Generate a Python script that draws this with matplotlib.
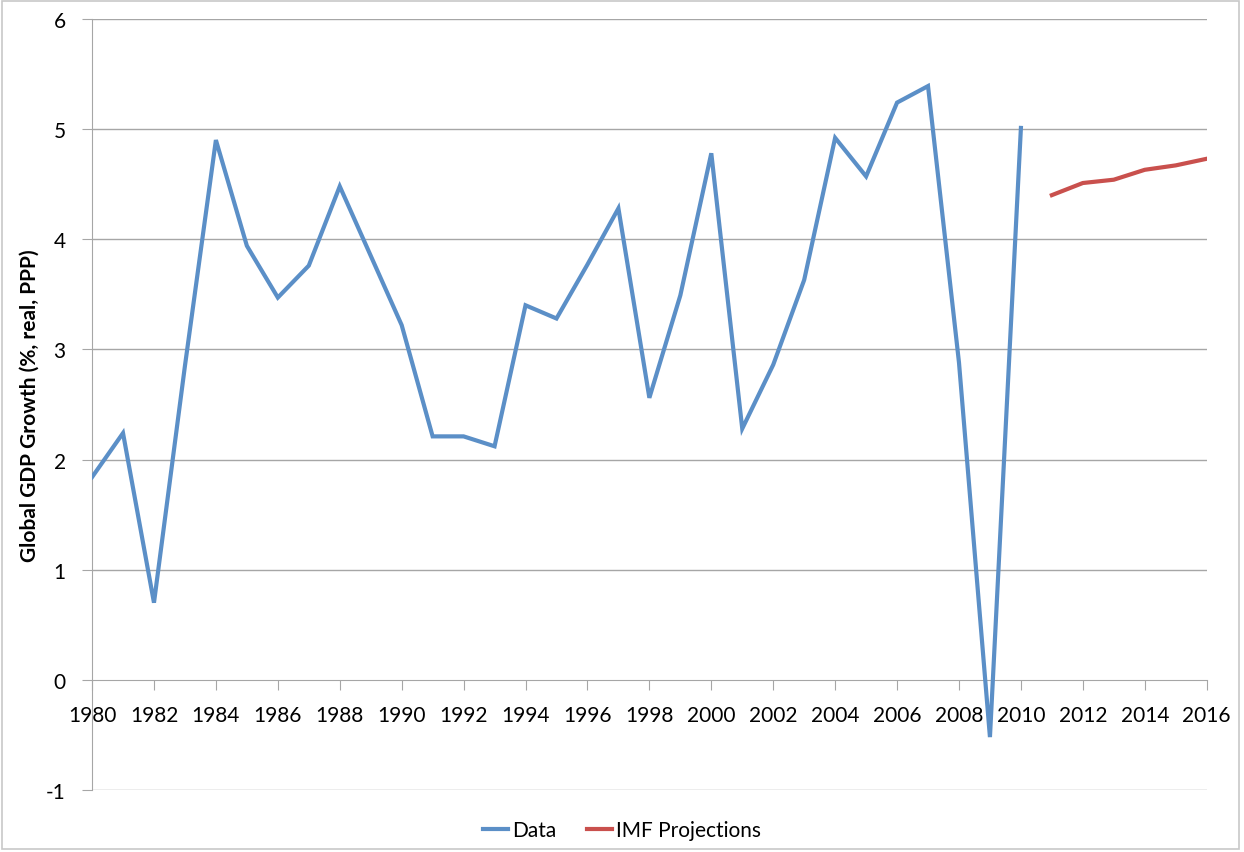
import numpy as np
import matplotlib.pyplot as plt
from matplotlib.patches import Rectangle

# Global GDP growth (%, real, PPP)
years = list(range(1980, 2011))
growth = [1.84, 2.24, 0.70, 2.85, 4.90, 3.94, 3.47, 3.76, 4.48, 3.85,
          3.22, 2.21, 2.21, 2.12, 3.40, 3.28, 3.77, 4.28, 2.56, 3.49,
          4.78, 2.28, 2.86, 3.63, 4.92, 4.57, 5.24, 5.39, 2.88, -0.52,
          5.01]

# IMF projections
proj_years = list(range(2011, 2017))
proj = [4.40, 4.51, 4.54, 4.63, 4.67, 4.73]

xticks = list(range(1980, 2017, 2))
yticks = list(range(-1, 7))

plt.rcParams['font.family'] = ['Lato', 'DejaVu Sans']
plt.rcParams['axes.unicode_minus'] = False

fig = plt.figure(figsize=(12.44, 8.53), dpi=100)
ax = fig.add_axes([0.074, 0.0727, 0.896, 0.904])

# Excel-like outer border
fig.patches.append(Rectangle((0.002, 0.004), 0.994, 0.994, transform=fig.transFigure,
                             fill=False, edgecolor='#c8c8c8', linewidth=1.2))

grid_col = '#a6a6a6'
for y in yticks:
    if y != 0:
        ax.axhline(y, color=grid_col, linewidth=1, zorder=1)

ax.plot(years, growth, color='#5b8fc7', linewidth=3, label='Data', zorder=3,
        solid_joinstyle='miter')
ax.plot(proj_years, proj, color='#c9504d', linewidth=3, label='IMF Projections', zorder=3)

ax.set_xlim(1980, 2016)
ax.set_ylim(-1, 6)

ax.spines['top'].set_visible(False)
ax.spines['right'].set_visible(False)
ax.spines['bottom'].set_position(('data', 0))
ax.spines['bottom'].set_color(grid_col)
ax.spines['left'].set_color(grid_col)
ax.spines['bottom'].set_zorder(1)

ax.set_xticks(xticks)
ax.set_xticklabels([str(x) for x in xticks])
ax.set_yticks(yticks)
ax.tick_params(axis='x', direction='out', length=7, color=grid_col, labelsize=15, pad=11)
ax.tick_params(axis='y', direction='out', length=7, color=grid_col, labelsize=15, pad=12)
for lbl in ax.get_xticklabels():
    lbl.set_zorder(2)

ax.set_ylabel('Global GDP Growth (%, real, PPP)', fontsize=15, fontweight='bold')
ax.yaxis.set_label_coords(-0.047, 0.5)

fig.legend(loc='lower center', bbox_to_anchor=(0.5, -0.008), ncol=2, frameon=False,
           fontsize=15, handlelength=1.2, handletextpad=0.2, columnspacing=1.5)

fig.savefig('out.png', dpi=100)
